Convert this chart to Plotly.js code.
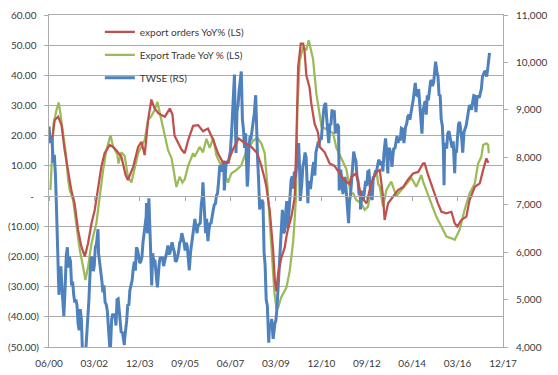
<!DOCTYPE html>
<html><head><meta charset="utf-8">
<script src="https://cdn.plot.ly/plotly-3.0.1.min.js"></script>
<style>html,body{margin:0;padding:0;background:#fff}#chart{width:558px;height:375px}</style>
</head><body><div id="chart"></div>
<script>
const ordersDates = ['2000-07-20','2000-08-20','2000-10-08','2000-11-24','2001-01-07','2001-02-26','2001-04-11','2001-05-27','2001-07-15','2001-08-30','2001-10-18','2001-12-03','2002-01-21','2002-03-07','2002-04-21','2002-06-08','2002-07-24','2002-10-03','2002-11-21','2003-01-05','2003-03-17','2003-05-15','2003-06-17','2003-08-30','2003-11-08','2003-12-24','2004-02-08','2004-03-27','2004-05-12','2004-06-27','2004-08-21','2004-11-17','2005-01-27','2005-03-05','2005-04-04','2005-05-24','2005-07-09','2005-08-24','2005-10-12','2005-12-21','2006-03-02','2006-05-09','2006-07-18','2006-09-30','2006-12-09','2007-02-17','2007-04-27','2007-07-06','2007-09-21','2007-11-24','2008-02-02','2008-03-21','2008-06-11','2008-08-08','2008-09-21','2008-10-18','2008-11-21','2008-12-03','2009-01-21','2009-02-14','2009-03-07','2009-03-30','2009-05-15','2009-07-03','2009-07-27','2009-08-17','2009-10-06','2009-11-21','2009-12-15','2010-01-08','2010-02-14','2010-03-20','2010-04-08','2010-05-03','2010-06-17','2010-07-12','2010-08-27','2010-10-15','2010-11-08','2011-01-17','2011-03-27','2011-06-05','2011-08-14','2011-10-24','2012-01-02','2012-01-27','2012-04-05','2012-06-14','2012-08-27','2012-11-05','2013-01-14','2013-03-02','2013-04-17','2013-05-09','2013-06-27','2013-09-05','2013-11-14','2014-01-24','2014-04-05','2014-06-14','2014-08-24','2014-11-02','2014-11-24','2015-01-11','2015-03-21','2015-05-30','2015-07-18','2015-09-27','2015-12-06','2016-01-21','2016-02-27','2016-04-24','2016-07-03','2016-08-17','2016-10-30','2017-01-08','2017-02-24','2017-04-11','2017-05-09'];
const ordersYoY = [19.6,25.2,26.3,23.5,15.2,7.5,2,-2.4,-11.2,-16.7,-20,-15.6,-9,-4.6,2,9.7,14.2,16.9,16.3,15.2,13,7,5.3,9.7,16.3,18,13.6,25.2,32,29,27.4,26.3,29,27,20,17.5,15.5,14.2,18.5,23.3,23.5,21.5,22.4,18.6,14,11,11.4,15.5,19.1,18,17,16.3,14.2,10,6,3.1,-3,-4.6,-18,-28,-31.6,-26,-20.5,-17,-13.4,-11,-6.8,-0.2,19.6,42.8,50.5,50.5,48,40,36,30.7,24,21,16.3,14.5,10.8,10,7.5,5.3,4,6.4,7.5,-0.2,-2.4,4.5,8,8.6,-0.2,-7.9,-2.4,0,2,3,5.5,7.5,8,10.8,10.8,7,2,-2.4,-5.2,-5.7,-5.2,-9,-10.1,-7.9,-6.8,-1.3,3.1,4.2,8.6,12.5,11];

const tradeDates = ['2000-06-21','2000-07-12','2000-08-05','2000-09-14','2000-10-15','2000-11-08','2000-12-18','2001-01-24','2001-02-26','2001-03-20','2001-05-06','2001-06-21','2001-08-08','2001-09-24','2001-10-27','2001-12-03','2002-01-21','2002-03-30','2002-05-15','2002-07-03','2002-08-17','2002-10-15','2002-11-21','2003-01-17','2003-02-05','2003-03-17','2003-05-03','2003-06-17','2003-08-05','2003-09-21','2003-11-08','2004-02-08','2004-03-27','2004-05-12','2004-06-27','2004-08-05','2004-09-30','2004-11-17','2005-01-02','2005-02-21','2005-04-05','2005-04-30','2005-06-14','2005-07-24','2005-08-24','2005-10-12','2005-12-21','2006-01-11','2006-03-24','2006-05-09','2006-06-27','2006-08-11','2006-09-30','2006-11-14','2007-02-17','2007-04-27','2007-06-11','2007-08-21','2007-10-30','2008-01-11','2008-04-14','2008-06-11','2008-08-08','2008-09-24','2008-11-02','2008-12-03','2008-12-27','2009-01-21','2009-02-08','2009-03-07','2009-03-30','2009-05-15','2009-07-27','2009-09-11','2009-10-30','2009-11-21','2009-12-09','2009-12-27','2010-01-30','2010-03-20','2010-05-03','2010-06-05','2010-08-05','2010-09-21','2010-12-03','2011-03-05','2011-05-15','2011-06-30','2011-09-08','2011-11-17','2012-01-17','2012-02-21','2012-04-05','2012-06-14','2012-08-02','2012-09-17','2012-11-05','2012-12-21','2013-01-14','2013-02-08','2013-03-02','2013-04-17','2013-06-02','2013-08-11','2013-10-21','2013-12-30','2014-03-14','2014-05-21','2014-07-30','2014-10-09','2014-11-02','2014-12-18','2015-02-27','2015-05-06','2015-06-24','2015-08-08','2015-09-27','2015-12-06','2016-01-21','2016-03-30','2016-06-08','2016-08-17','2016-10-30','2016-12-15','2017-01-30','2017-02-24','2017-04-11','2017-05-06','2017-05-15'];
const tradeYoY = [2,14,24,28.5,31,27.5,19.6,14.2,5.3,2,-1.3,-10.1,-17.8,-23.4,-27.8,-23.4,-15.6,-9,-0.2,8.6,15,20.2,16.3,14,10.8,14.5,13.3,6.4,4.5,9.7,14.2,18.6,25.2,26.5,28.5,31.2,25.5,20.8,15.2,12.5,6.4,3,6.4,4.5,5.5,10,14.2,13,16.3,14.5,19,16,19.3,13.5,8.6,4.5,7.5,8.6,10.2,15,18.3,19.3,17.5,14.2,3,-8,-16,-25,-32,-37,-37,-33.5,-30.3,-24.8,-15,-7.3,0,28.5,45,49.4,48.3,51.6,45.5,34,23,21.9,20.8,16,12.5,9,1,0.9,-1.3,-2.4,-4.6,-3.5,3.1,7.5,8.6,4,3.1,-3.5,2,4.8,0,2,4.2,6,3.1,7,4.8,2,-2.4,-6.8,-9,-11.2,-13.4,-14,-14.5,-11.2,-4.6,0.9,4.2,10.8,13,16.9,17.5,17,14.2];

const twseDates = ['2000-06-01','2000-06-20','2000-07-10','2000-07-31','2000-08-15','2000-08-31','2000-09-15','2000-09-30','2000-10-19','2000-10-31','2000-11-15','2000-11-30','2000-12-27','2001-01-10','2001-01-31','2001-02-15','2001-02-28','2001-03-15','2001-03-31','2001-04-15','2001-04-30','2001-05-15','2001-05-31','2001-06-15','2001-06-30','2001-07-15','2001-07-31','2001-08-15','2001-08-31','2001-09-26','2001-09-30','2001-10-15','2001-10-31','2001-11-15','2001-11-30','2001-12-15','2001-12-31','2002-01-15','2002-01-31','2002-02-15','2002-02-28','2002-03-15','2002-03-31','2002-04-22','2002-04-30','2002-05-15','2002-05-31','2002-06-15','2002-06-30','2002-07-15','2002-07-31','2002-08-15','2002-08-31','2002-09-15','2002-09-30','2002-10-11','2002-10-31','2002-11-15','2002-11-30','2002-12-15','2002-12-31','2003-01-15','2003-01-31','2003-02-15','2003-02-28','2003-03-15','2003-03-31','2003-04-28','2003-04-30','2003-05-15','2003-05-31','2003-06-15','2003-06-30','2003-07-15','2003-07-31','2003-08-15','2003-08-31','2003-09-15','2003-09-30','2003-10-15','2003-10-31','2003-11-15','2003-11-30','2003-12-15','2003-12-31','2004-01-15','2004-01-31','2004-02-15','2004-02-29','2004-03-05','2004-03-19','2004-03-31','2004-04-07','2004-04-30','2004-05-17','2004-05-31','2004-06-15','2004-06-30','2004-07-15','2004-07-31','2004-08-05','2004-08-31','2004-09-15','2004-09-30','2004-10-15','2004-10-31','2004-11-15','2004-11-30','2004-12-15','2004-12-31','2005-01-15','2005-01-31','2005-02-15','2005-02-28','2005-03-15','2005-03-31','2005-04-15','2005-04-30','2005-05-15','2005-05-31','2005-06-15','2005-06-30','2005-07-15','2005-07-31','2005-08-15','2005-08-31','2005-09-15','2005-09-30','2005-10-28','2005-11-15','2005-11-30','2005-12-15','2005-12-31','2006-01-15','2006-01-31','2006-02-15','2006-02-28','2006-03-15','2006-03-31','2006-04-15','2006-04-30','2006-05-08','2006-05-31','2006-06-15','2006-06-30','2006-07-17','2006-07-31','2006-08-15','2006-08-31','2006-09-15','2006-09-30','2006-10-15','2006-10-31','2006-11-15','2006-11-30','2006-12-15','2006-12-31','2007-01-15','2007-01-31','2007-02-15','2007-02-28','2007-03-05','2007-03-31','2007-04-15','2007-04-30','2007-05-15','2007-05-31','2007-06-15','2007-06-30','2007-07-26','2007-07-31','2007-08-17','2007-08-31','2007-09-15','2007-09-30','2007-10-30','2007-11-15','2007-11-30','2007-12-15','2007-12-31','2008-01-22','2008-01-31','2008-02-15','2008-02-29','2008-03-15','2008-03-31','2008-04-15','2008-04-30','2008-05-20','2008-05-31','2008-06-15','2008-06-30','2008-07-15','2008-07-31','2008-08-15','2008-08-31','2008-09-15','2008-09-30','2008-10-15','2008-10-31','2008-11-20','2008-11-30','2008-12-15','2008-12-31','2009-01-15','2009-01-21','2009-02-15','2009-02-28','2009-03-15','2009-03-31','2009-04-15','2009-04-30','2009-05-15','2009-05-31','2009-06-15','2009-06-30','2009-07-15','2009-07-31','2009-08-17','2009-08-31','2009-09-15','2009-09-30','2009-10-15','2009-10-31','2009-11-15','2009-11-30','2009-12-15','2009-12-31','2010-01-15','2010-01-31','2010-02-06','2010-02-28','2010-03-15','2010-03-31','2010-04-15','2010-04-30','2010-05-25','2010-05-31','2010-06-15','2010-06-30','2010-07-15','2010-07-31','2010-08-15','2010-08-31','2010-09-15','2010-09-30','2010-10-15','2010-10-31','2010-11-15','2010-11-30','2010-12-15','2010-12-31','2011-01-15','2011-01-31','2011-02-15','2011-02-28','2011-03-15','2011-03-31','2011-04-15','2011-04-30','2011-05-15','2011-05-31','2011-06-15','2011-06-30','2011-07-15','2011-07-31','2011-08-09','2011-08-31','2011-09-15','2011-09-30','2011-10-15','2011-10-31','2011-11-15','2011-11-30','2011-12-19','2011-12-31','2012-01-15','2012-01-31','2012-02-15','2012-02-29','2012-03-15','2012-03-31','2012-04-15','2012-04-30','2012-05-15','2012-05-31','2012-06-04','2012-06-30','2012-07-15','2012-07-31','2012-08-15','2012-08-31','2012-09-15','2012-09-30','2012-10-15','2012-10-31','2012-11-15','2012-11-30','2012-12-15','2012-12-31','2013-01-15','2013-01-31','2013-02-15','2013-02-28','2013-03-15','2013-03-31','2013-04-15','2013-04-30','2013-05-22','2013-05-31','2013-06-24','2013-06-30','2013-07-15','2013-07-31','2013-08-21','2013-08-31','2013-09-15','2013-09-30','2013-10-22','2013-10-31','2013-11-15','2013-11-30','2013-12-15','2013-12-31','2014-01-15','2014-02-05','2014-02-28','2014-03-15','2014-03-31','2014-04-15','2014-04-30','2014-05-15','2014-05-31','2014-06-15','2014-06-30','2014-07-15','2014-07-31','2014-08-15','2014-08-31','2014-09-15','2014-09-30','2014-10-17','2014-10-31','2014-11-15','2014-11-30','2014-12-16','2014-12-31','2015-01-15','2015-01-31','2015-02-15','2015-02-28','2015-03-15','2015-03-31','2015-04-15','2015-04-27','2015-05-15','2015-05-31','2015-06-15','2015-06-30','2015-07-15','2015-07-31','2015-08-14','2015-08-24','2015-08-31','2015-09-15','2015-09-30','2015-10-15','2015-10-31','2015-11-15','2015-11-30','2015-12-15','2015-12-31','2016-01-21','2016-01-31','2016-02-15','2016-02-29','2016-03-15','2016-03-31','2016-04-15','2016-04-30','2016-05-13','2016-05-31','2016-06-15','2016-06-30','2016-07-15','2016-07-31','2016-08-15','2016-08-31','2016-09-15','2016-09-30','2016-10-15','2016-10-31','2016-11-15','2016-11-30','2016-12-15','2016-12-31','2017-01-15','2017-01-31','2017-02-15','2017-02-28','2017-03-15','2017-03-31','2017-04-15','2017-04-30','2017-05-15','2017-05-25'];
const twseIndex = [8650,8300,8450,7880,8050,7616,6900,6185,5100,5544,5700,5256,4650,5100,5936,6104,5674,5900,5797,5300,5381,5100,4936,5000,4883,4500,4352,4800,4581,3411,3636,3700,3903,4300,4441,5000,5551,5900,5872,5600,5706,6100,6167,6484,5974,5800,5675,5400,5153,5300,4941,4900,4764,4500,4191,3850,4579,4700,4646,4700,4452,5000,5016,4700,4556,4300,4321,4044,4148,4300,4555,4900,4872,5200,5318,5400,5650,5800,5611,6100,6045,5900,5771,5800,5891,6200,6375,6600,6750,7034,6400,6522,7135,6117,5300,5977,5800,5839,5600,5420,5255,5765,5900,5845,5900,5706,5800,5844,6000,6140,5950,5994,6100,6207,6100,6006,5800,5818,5900,6012,6200,6242,6400,6311,6200,6033,6200,6119,5618,6000,6204,6400,6548,6700,6532,6400,6561,6600,6613,7000,7171,7474,6847,6400,6704,6232,6455,6600,6612,6800,6884,7000,7021,7200,7237,7500,7823,7800,7699,7900,7901,7300,7884,7900,7875,8000,8145,8500,8883,9744,9287,8090,8982,9100,9411,9809,8800,8586,8200,8506,7384,7521,8200,8413,8400,8572,8700,8920,9309,8619,8000,7524,6900,7024,7100,7046,6000,5720,5000,4871,4090,4460,4400,4591,4300,4170,4500,4557,4800,5210,5800,5992,6400,6890,6400,6432,6800,7078,6500,6826,7200,7509,7600,7340,7700,7582,7800,8188,8300,7640,7080,7436,7800,7920,8100,7998,7032,7374,7500,7329,7600,7761,7900,7616,8100,8238,8300,8287,8400,8372,8700,8973,9100,9145,8800,8600,8300,8683,8700,9008,8900,8989,8500,8653,8700,8644,7300,7741,7400,7225,7400,7588,7300,6904,6609,7072,7200,7518,7900,8121,8000,7933,7600,7501,7200,7301,6900,7296,7100,7270,7500,7397,7700,7715,7400,7166,7100,7580,7600,7700,7700,7850,7950,7907,7850,7919,7700,8093,8400,8254,7660,8062,8200,8108,7800,7992,8200,8173,8450,8450,8300,8407,8350,8612,8600,8300,8640,8700,8849,8900,8792,8900,9075,9200,9393,9569,9315,9300,9436,9100,8966,8500,8974,9100,9187,8900,9307,9200,9361,9600,9622,9500,9586,9900,10014,9800,9701,9300,9323,8800,8665,8200,7410,8174,8300,8181,8500,8554,8400,8320,8200,8338,7664,8145,8100,8411,8700,8745,8600,8377,8100,8535,8600,8666,8800,8984,9100,9068,9000,9166,9300,9290,8950,9240,9300,9254,9350,9448,9700,9750,9800,9812,9700,9872,10050,10200];

const leftTickVals = [60,50,40,30,20,10,0,-10,-20,-30,-40,-50];
const leftTickText = ['60.00\u00a0','50.00\u00a0','40.00\u00a0','30.00\u00a0','20.00\u00a0','10.00\u00a0','-\u00a0\u00a0','(10.00)','(20.00)','(30.00)','(40.00)','(50.00)'];
const xRange = ['2000-06-01','2017-12-01'];

const gray = '#ABABAB';
const txt = '#3A3A3A';
const fontFam = 'Lato, "Liberation Sans", sans-serif';

const traces = [
  {x: ordersDates, y: ordersYoY, name: 'export orders YoY% (LS)', type: 'scatter', mode: 'lines',
   line: {color: '#C0504D', width: 2.25}, xaxis: 'x2', yaxis: 'y', legendgroup: 'a'},
  {x: tradeDates, y: tradeYoY, name: 'Export Trade YoY % (LS)', type: 'scatter', mode: 'lines',
   line: {color: '#9BBB59', width: 2.25}, xaxis: 'x', yaxis: 'y', legendgroup: 'b'},
  {x: twseDates, y: twseIndex, name: 'TWSE (RS)', type: 'scatter', mode: 'lines',
   line: {color: '#4F81BD', width: 3}, xaxis: 'x', yaxis: 'y2', legendgroup: 'c'}
];

const layout = {
  width: 558, height: 375,
  margin: {l: 49, r: 55, t: 15, b: 28},
  paper_bgcolor: '#fff', plot_bgcolor: '#fff',
  font: {family: fontFam, size: 10, color: txt},
  showlegend: true,
  legend: {x: 0.112, y: 0.993, xanchor: 'left', yanchor: 'top', bgcolor: 'rgba(0,0,0,0)',
    traceorder: 'grouped', tracegroupgap: 4, font: {family: fontFam, size: 10, color: txt}},
  xaxis: {type: 'date', range: xRange, tick0: '2000-06-01', dtick: 'M21', tickformat: '%m/%y',
    showgrid: false, showline: true, mirror: true, linecolor: gray, linewidth: 1,
    ticks: '', ticklabelstandoff: 7, tickfont: {family: fontFam, size: 10, color: txt}, zeroline: false},
  xaxis2: {type: 'date', range: xRange, tick0: '2000-06-01', dtick: 'M21', overlaying: 'x',
    anchor: 'free', position: 50/110, side: 'bottom', showgrid: false, showline: true,
    linecolor: gray, linewidth: 1, ticks: 'outside', ticklen: 4, tickcolor: gray,
    showticklabels: false, zeroline: false},
  yaxis: {range: [-50, 60], tickvals: leftTickVals, ticktext: leftTickText,
    showgrid: true, gridcolor: gray, gridwidth: 1, zeroline: false,
    showline: true, linecolor: gray, ticks: 'outside', ticklen: 4, tickcolor: gray,
    ticklabelstandoff: 3, tickfont: {family: fontFam, size: 10, color: txt}},
  yaxis2: {range: [4000, 11000], tick0: 4000, dtick: 1000, tickformat: ',d', overlaying: 'y',
    side: 'right', showgrid: false, zeroline: false, showline: true, linecolor: gray,
    ticks: 'outside', ticklen: 4, tickcolor: gray, ticklabelstandoff: 6,
    tickfont: {family: fontFam, size: 10, color: txt}}
};

Plotly.newPlot('chart', traces, layout, {displayModeBar: false, staticPlot: true});
</script>
</body></html>
